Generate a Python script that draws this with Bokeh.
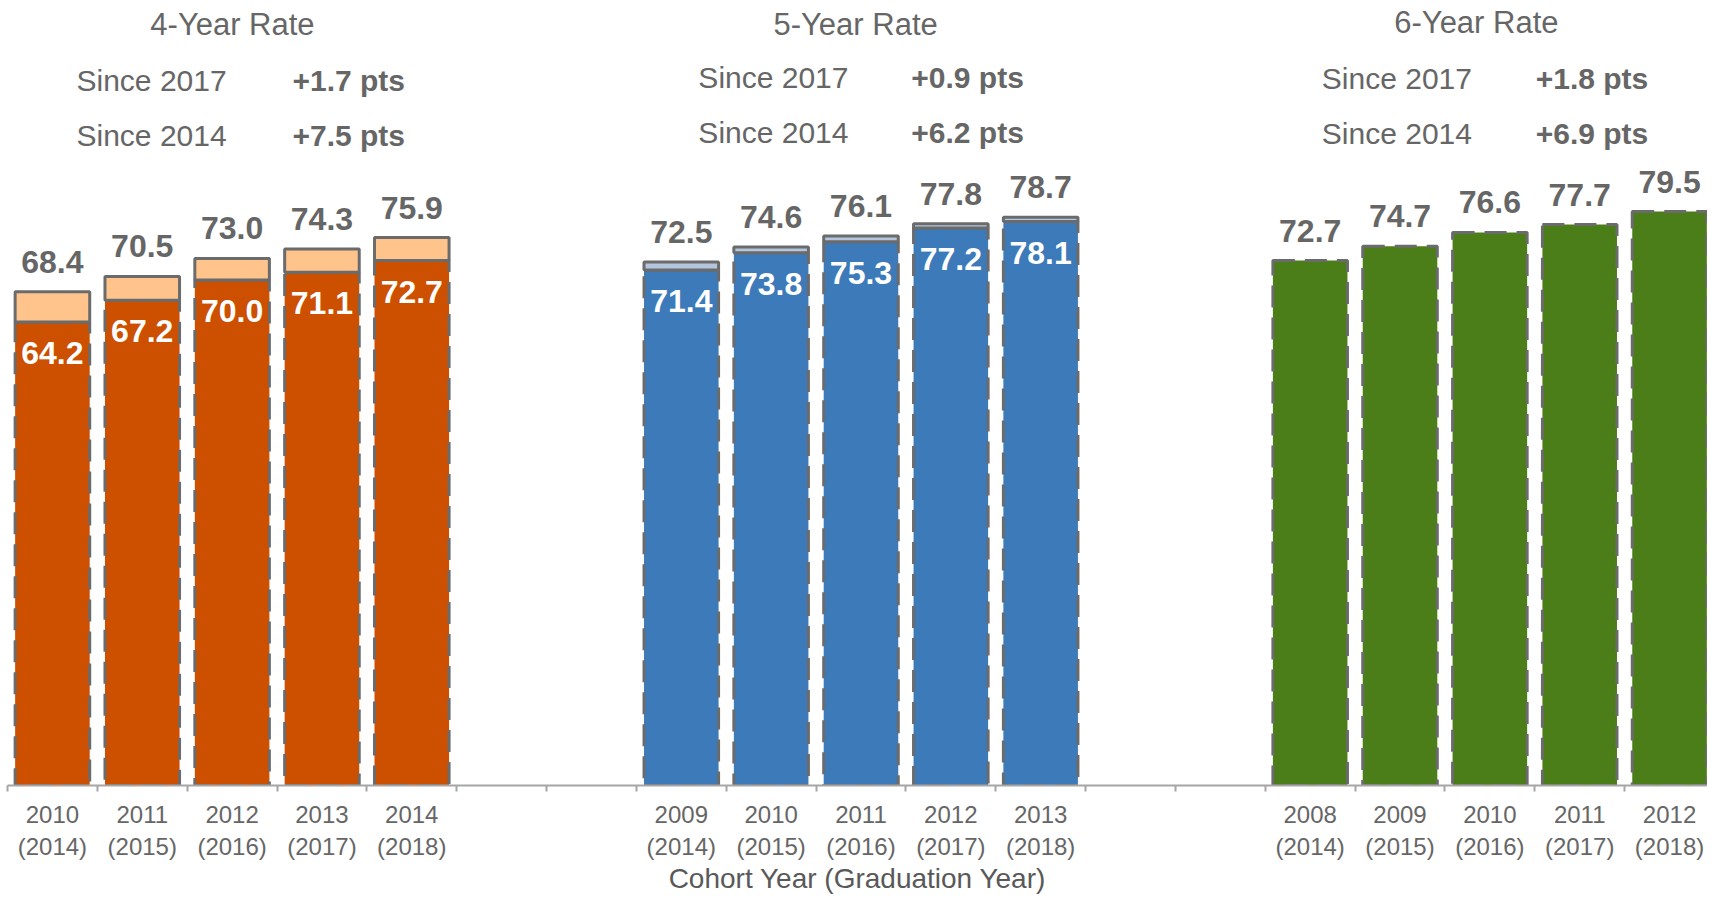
from bokeh.plotting import figure
from bokeh.models import Range1d, FixedTicker
from bokeh.core.properties import value
from bokeh.embed import file_html
from bokeh.resources import INLINE

# ---------------- data ----------------
group_titles = ["4-Year Rate", "5-Year Rate", "6-Year Rate"]
cohort_4 = ["2010", "2011", "2012", "2013", "2014"]
cohort_5 = ["2009", "2010", "2011", "2012", "2013"]
cohort_6 = ["2008", "2009", "2010", "2011", "2012"]
grad_years = ["2014", "2015", "2016", "2017", "2018"]

rate4_base = [64.2, 67.2, 70.0, 71.1, 72.7]
rate4_total = [68.4, 70.5, 73.0, 74.3, 75.9]
rate5_base = [71.4, 73.8, 75.3, 77.2, 78.1]
rate5_total = [72.5, 74.6, 76.1, 77.8, 78.7]
rate6_total = [72.7, 74.7, 76.6, 77.7, 79.5]

since_labels = ["Since 2017", "Since 2014"]
since_2017 = ["+1.7 pts", "+0.9 pts", "+1.8 pts"]
since_2014 = ["+7.5 pts", "+6.2 pts", "+6.9 pts"]
x_title = "Cohort Year (Graduation Year)"

# ---------------- style ----------------
FONT = "Liberation Sans"
TXT = "#666666"
OUTLINE = "#6b6b6b"
DASH = "22 10"
ORANGE, ORANGE_L = "#cc5000", "#ffc38c"
BLUE, BLUE_L = "#3c7aba", "#b3c6dd"
GREEN = "#4b7e19"

SLOT_PX = 89.84
PX_PER_UNIT = 7.22
FRAME_W, FRAME_H = 1700, 785
offsets = [0, 7, 14]
W = 0.83

p = figure(width=1707, height=897, output_backend="svg", toolbar_location=None,
           x_range=Range1d(0, FRAME_W / SLOT_PX), y_range=Range1d(0, FRAME_H / PX_PER_UNIT),
           min_border_left=7, min_border_right=0, min_border_top=0,
           min_border_bottom=897 - FRAME_H)
p.outline_line_color = None
p.grid.visible = False
p.yaxis.visible = False

def xs(g):
    return [offsets[g] + i + 0.5 for i in range(5)]

def ypx(py):
    # header pixel row -> data value
    return (FRAME_H - py) / PX_PER_UNIT

TOP_GAP = 30 / PX_PER_UNIT     # label centre above bar top
IN_GAP = 31 / PX_PER_UNIT      # label centre below segment edge

# ---- bars ----
def stacked(g, base, total, dark, light):
    x = xs(g)
    p.vbar(x=x, bottom=0, top=base, width=W, fill_color=dark,
           line_color=OUTLINE, line_width=3, line_dash=DASH)
    p.vbar(x=x, bottom=base, top=total, width=W, fill_color=light,
           line_color=OUTLINE, line_width=3)
    p.text(x=x, y=[b - IN_GAP for b in base], text=[f"{v:.1f}" for v in base],
           text_color="white", text_font=value(FONT), text_font_style="bold",
           text_font_size="32px", text_align="center", text_baseline="middle")

stacked(0, rate4_base, rate4_total, ORANGE, ORANGE_L)
stacked(1, rate5_base, rate5_total, BLUE, BLUE_L)
p.vbar(x=xs(2), bottom=0, top=rate6_total, width=W, fill_color=GREEN,
       line_color=OUTLINE, line_width=3, line_dash=DASH)

for g, tot in enumerate([rate4_total, rate5_total, rate6_total]):
    p.text(x=xs(g), y=[t + TOP_GAP for t in tot], text=[f"{v:.1f}" for v in tot],
           text_color=TXT, text_font=value(FONT), text_font_style="bold",
           text_font_size="32px", text_align="center", text_baseline="middle")

# ---- headers ----
title_x = [2.504, 9.44, 16.35]
title_py = [24, 24, 22]
lab_x = [0.768, 7.69, 14.63]
val_x = [3.172, 10.06, 17.01]
row_py = [[80, 135], [77, 132], [78, 133]]

p.text(x=title_x, y=[ypx(v) for v in title_py], text=group_titles, text_color=TXT,
       text_font=value(FONT), text_font_size="31px", text_align="center",
       text_baseline="middle")
for g in range(3):
    ys = [ypx(v) for v in row_py[g]]
    p.text(x=[lab_x[g]] * 2, y=ys, text=since_labels, text_color=TXT,
           text_font=value(FONT), text_font_size="30px", text_align="left",
           text_baseline="middle")
    p.text(x=[val_x[g]] * 2, y=ys, text=[since_2017[g], since_2014[g]],
           text_color=TXT, text_font=value(FONT), text_font_style="bold",
           text_font_size="30px", text_align="left", text_baseline="middle")

# ---- x axis ----
centers = xs(0) + xs(1) + xs(2)
cohorts = cohort_4 + cohort_5 + cohort_6
labels = [f"{c}\n({y})" for c, y in zip(cohorts, grad_years * 3)]
ax = p.xaxis[0]
ax.ticker = FixedTicker(ticks=centers, minor_ticks=list(range(20)))
ax.major_label_overrides = {c: l for c, l in zip(centers, labels)}
ax.major_tick_line_color = None
ax.minor_tick_line_color = "#a6a6a6"
ax.minor_tick_line_width = 2
ax.minor_tick_in = 0
ax.minor_tick_out = 6
ax.axis_line_color = "#a6a6a6"
ax.axis_line_width = 2
ax.major_label_text_font = FONT
ax.major_label_text_font_size = "24px"
ax.major_label_text_color = "#666666"
ax.major_label_standoff = 9
ax.axis_label = x_title
ax.axis_label_text_font = FONT
ax.axis_label_text_font_size = "28px"
ax.axis_label_text_font_style = "normal"
ax.axis_label_text_color = "#595959"
ax.axis_label_standoff = 0

open("out.html", "w").write(file_html(p, INLINE))
